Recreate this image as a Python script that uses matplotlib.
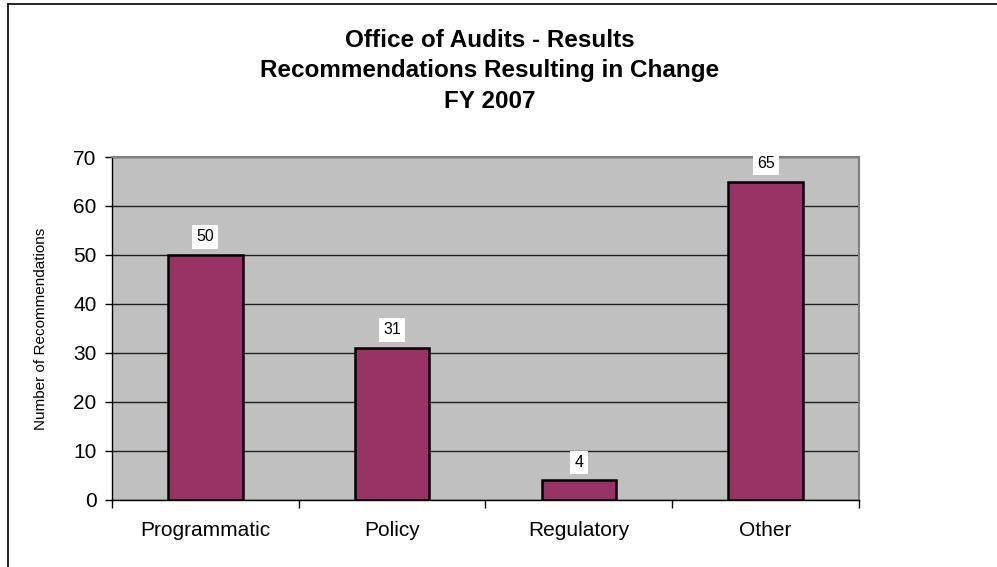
import matplotlib

matplotlib.use("Agg")

import matplotlib.pyplot as plt
from matplotlib.lines import Line2D
from matplotlib.ticker import FixedLocator, NullFormatter

plt.rcParams["font.family"] = ["Liberation Sans", "DejaVu Sans"]

CATEGORIES = ["Programmatic", "Policy", "Regulatory", "Other"]
COUNTS = [50, 31, 4, 65]
Y_TICKS = [0, 10, 20, 30, 40, 50, 60, 70]

TITLE = "Office of Audits - Results\nRecommendations Resulting in Change\nFY 2007"
Y_LABEL = "Number of Recommendations"

BAR_COLOR = "#993366"
PLOT_BG = "#C0C0C0"

fig = plt.figure(figsize=(9.97, 5.67), dpi=100)
ax = fig.add_axes([0.1123, 0.1182, 0.7493, 0.6049])
ax.set_facecolor(PLOT_BG)

# chart-area frame, clipped by the right and bottom edges of the image
fig.add_artist(Line2D([8 / 997, 8 / 997], [1 - 4 / 567, -0.1],
                      transform=fig.transFigure, color="black", lw=1.2))
fig.add_artist(Line2D([8 / 997, 1.1], [1 - 4 / 567, 1 - 4 / 567],
                      transform=fig.transFigure, color="black", lw=1.2))

x = range(len(CATEGORIES))
bars = ax.bar(x, COUNTS, width=0.4, color=BAR_COLOR, edgecolor="black",
              linewidth=1.8, zorder=3)

for rect, value in zip(bars, COUNTS):
    ax.text(rect.get_x() + rect.get_width() / 2, value + 3.7, str(value),
            ha="center", va="center", fontsize=11.5, zorder=4,
            bbox=dict(facecolor="white", edgecolor="none", pad=3))

ax.set_xlim(-0.5, len(CATEGORIES) - 0.5)
ax.set_ylim(0, 70)
ax.set_yticks(Y_TICKS)
ax.yaxis.grid(True, color="#202020", linewidth=1.0, zorder=1)
ax.set_axisbelow(True)

# category names sit between the boundary ticks
ax.xaxis.set_major_locator(FixedLocator([i - 0.5 for i in range(len(CATEGORIES) + 1)]))
ax.xaxis.set_major_formatter(NullFormatter())
ax.xaxis.set_minor_locator(FixedLocator(list(x)))
ax.set_xticklabels(CATEGORIES, minor=True)
ax.tick_params(axis="x", which="minor", length=0, pad=15, labelsize=15)
ax.tick_params(axis="x", which="major", length=6, width=1, color="black")
ax.tick_params(axis="y", length=5, width=1, pad=6, labelsize=15)

for side in ("top", "right"):
    ax.spines[side].set_color("#808080")
    ax.spines[side].set_linewidth(1.5)
for side in ("left", "bottom"):
    ax.spines[side].set_color("black")
    ax.spines[side].set_linewidth(1.0)

ax.set_ylabel(Y_LABEL, fontsize=11, labelpad=18)

fig.text(0.4915, 0.8755, TITLE, ha="center", va="center", fontsize=17.5,
         fontweight="bold", linespacing=1.42)

fig.savefig("out.png", dpi=100)
